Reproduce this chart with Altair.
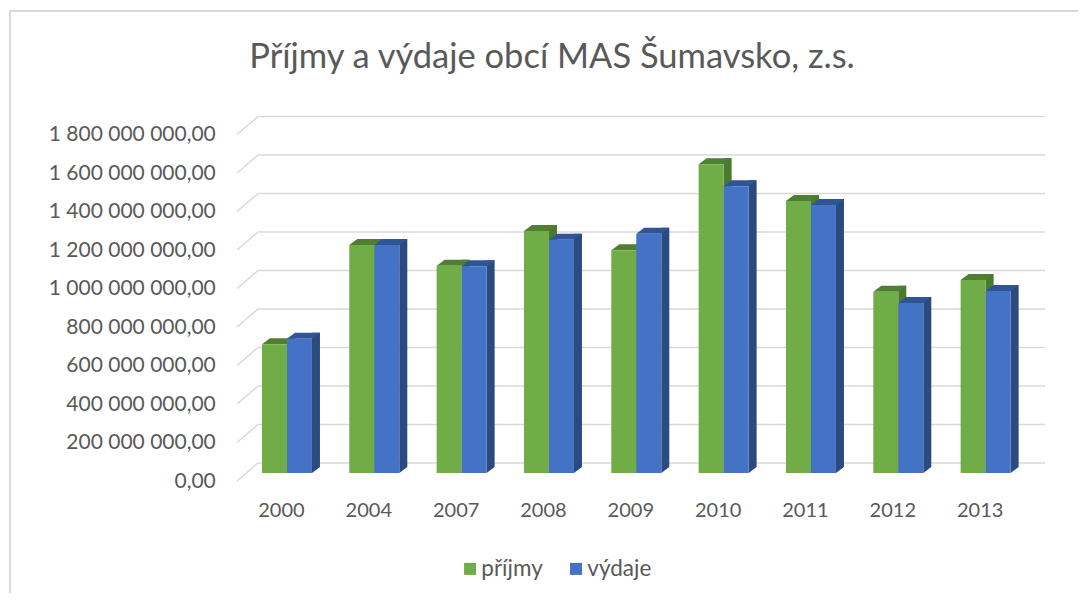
import altair as alt
import pandas as pd

# ---- data ----
years = ["2000", "2004", "2007", "2008", "2009", "2010", "2011", "2012", "2013"]
series = ["příjmy", "výdaje"]
prijmy = [669e6, 1184e6, 1077e6, 1257e6, 1157e6, 1604e6, 1413e6, 942e6, 1003e6]
vydaje = [698e6, 1184e6, 1074e6, 1212e6, 1243e6, 1489e6, 1392e6, 883e6, 945e6]
ticks = [0, 2e8, 4e8, 6e8, 8e8, 1e9, 1.2e9, 1.4e9, 1.6e9, 1.8e9]
title_text = "Příjmy a výdaje obcí MAS Šumavsko, z.s."

front_colors = ["#70ad47", "#4472c4"]
top_colors = ["#507e32", "#2f5597"]
side_colors = ["#4a7a2c", "#2b4a80"]
text_color = "#595959"
grid_color = "#d9d9d9"
FONT = "Lato"

rows = []
for i, (yr, a, b) in enumerate(zip(years, prijmy, vydaje)):
    rows.append({"idx": i, "year": yr, "sidx": 0, "series": series[0], "value": a})
    rows.append({"idx": i, "year": yr, "sidx": 1, "series": series[1], "value": b})
df = pd.DataFrame(rows)
tick_df = pd.DataFrame({"tick": ticks})
one = pd.DataFrame({"t": [title_text]})

# ---- layout ----
W, H = 786, 346.5
U = W / len(years)          # pixels per category step
BW = 25 / U                 # front-face width (in category units)
SD = 8 / U                  # depth offset (in category units)

years_js = "[" + ",".join("'" + y + "'" for y in years) + "]"

YS = alt.Scale(domain=[0, 1.8e9], nice=False)
y_axis = alt.Axis(values=ticks, domain=False, ticks=False, grid=False,
                  labelFont=FONT, labelFontSize=21, labelColor=text_color,
                  labelPadding=28, labelOffset=8,
                  labelExpr="replace(replace(format(datum.value, ',.2f'), regexp(',', 'g'), ' '), '.', ',')")
XS = alt.Scale(domain=[0, len(years)], nice=False, zero=False)
x_axis = alt.Axis(values=[i + 0.5 for i in range(len(years))], domain=False, ticks=False,
                  grid=False, labelAngle=0, labelFont=FONT, labelFontSize=20,
                  labelColor=text_color, labelPadding=27, labelOffset=-6,
                  labelFlush=False, labelOverlap=False,
                  labelExpr=years_js + "[floor(datum.value)]")


def Yf(field):
    return alt.Y(field, scale=YS, axis=y_axis, title=None)


def Xf(field):
    return alt.X(field, scale=XS, axis=x_axis, title=None)


base = alt.Chart(df).transform_calculate(
    x0=f"datum.idx + 0.5 - {BW} + datum.sidx * {BW}",
    x1=f"datum.x0 + {BW}",
    xs=f"datum.x1 + {SD}",
    xc=f"datum.x0 + {BW / 2}",
    zero="0",
)

# gridlines on back wall and slanted floor-side lines
grid = alt.Chart(tick_df).mark_rule(color=grid_color, strokeWidth=1.5,
                                    yOffset=-10, y2Offset=-10).encode(
    y=Yf("tick:Q"), x=alt.value(14.7), x2=alt.value(801.7),
)
slant = alt.Chart(tick_df).mark_rule(color=grid_color, strokeWidth=1.5,
                                     yOffset=8, y2Offset=-10).encode(
    y=Yf("tick:Q"), y2=alt.Y2("tick:Q"), x=alt.value(-6.3), x2=alt.value(14.7),
)

layers = [grid, slant]

for s, c in zip(series, side_colors):
    sub = base.transform_filter(alt.datum.series == s)
    layers.append(
        sub.mark_rect(yOffset=-6, y2Offset=-6, color=c).encode(
            x=Xf("x1:Q"), x2=alt.X2("xs:Q"), y=Yf("value:Q"), y2=alt.Y2("zero:Q"))
    )
    layers.append(
        sub.mark_point(shape="M 12.5 -6 L 12.5 0 L 20.5 -6 Z", size=4, filled=True,
                       opacity=1, strokeWidth=0, color=c).encode(
            x=Xf("xc:Q"), y=Yf("zero:Q"))
    )

for s, c in zip(series, top_colors):
    sub = base.transform_filter(alt.datum.series == s)
    layers.append(
        sub.mark_point(shape="M -12.5 0 L 12.5 0 L 20.5 -6 L -4.5 -6 Z", size=4,
                       filled=True, opacity=1, strokeWidth=0, color=c).encode(
            x=Xf("xc:Q"), y=Yf("value:Q"))
    )

front = base.mark_rect().encode(
    x=Xf("x0:Q"), x2=alt.X2("x1:Q"),
    y=Yf("value:Q"), y2=alt.Y2("zero:Q"),
    color=alt.Color("series:N", sort=series,
                    scale=alt.Scale(domain=series, range=front_colors),
                    legend=alt.Legend(orient="none", legendX=215.5, legendY=431,
                                      direction="horizontal", title=None,
                                      symbolType="square", symbolSize=144,
                                      symbolStrokeWidth=0, padding=0,
                                      labelFont=FONT, labelFontSize=22.5,
                                      labelColor=text_color, labelOffset=0,
                                      columnPadding=22)),
)
layers.append(front)

# title as text
title = alt.Chart(one).mark_text(font=FONT, fontSize=34.5, color=text_color,
                                 align="center", baseline="alphabetic").encode(
    text="t:N", x=alt.value(308.7), y=alt.value(-58.5)
)
# chart frame (left and top edges visible)
frame = alt.Chart(one).mark_rect(fillOpacity=0, stroke=grid_color, strokeWidth=2).encode(
    x=alt.value(-233.3), x2=alt.value(880), y=alt.value(-115.5), y2=alt.value(520)
)
layers += [title, frame]

chart = alt.layer(*layers).properties(
    width=W, height=H,
    background="white",
    autosize=alt.AutoSizeParams(type="none"),
    padding={"left": 235.3, "top": 118.5, "right": 48.7, "bottom": 120},
).configure_view(strokeWidth=0)

chart.save("out.html", embed_options={"renderer": "svg", "actions": False})
